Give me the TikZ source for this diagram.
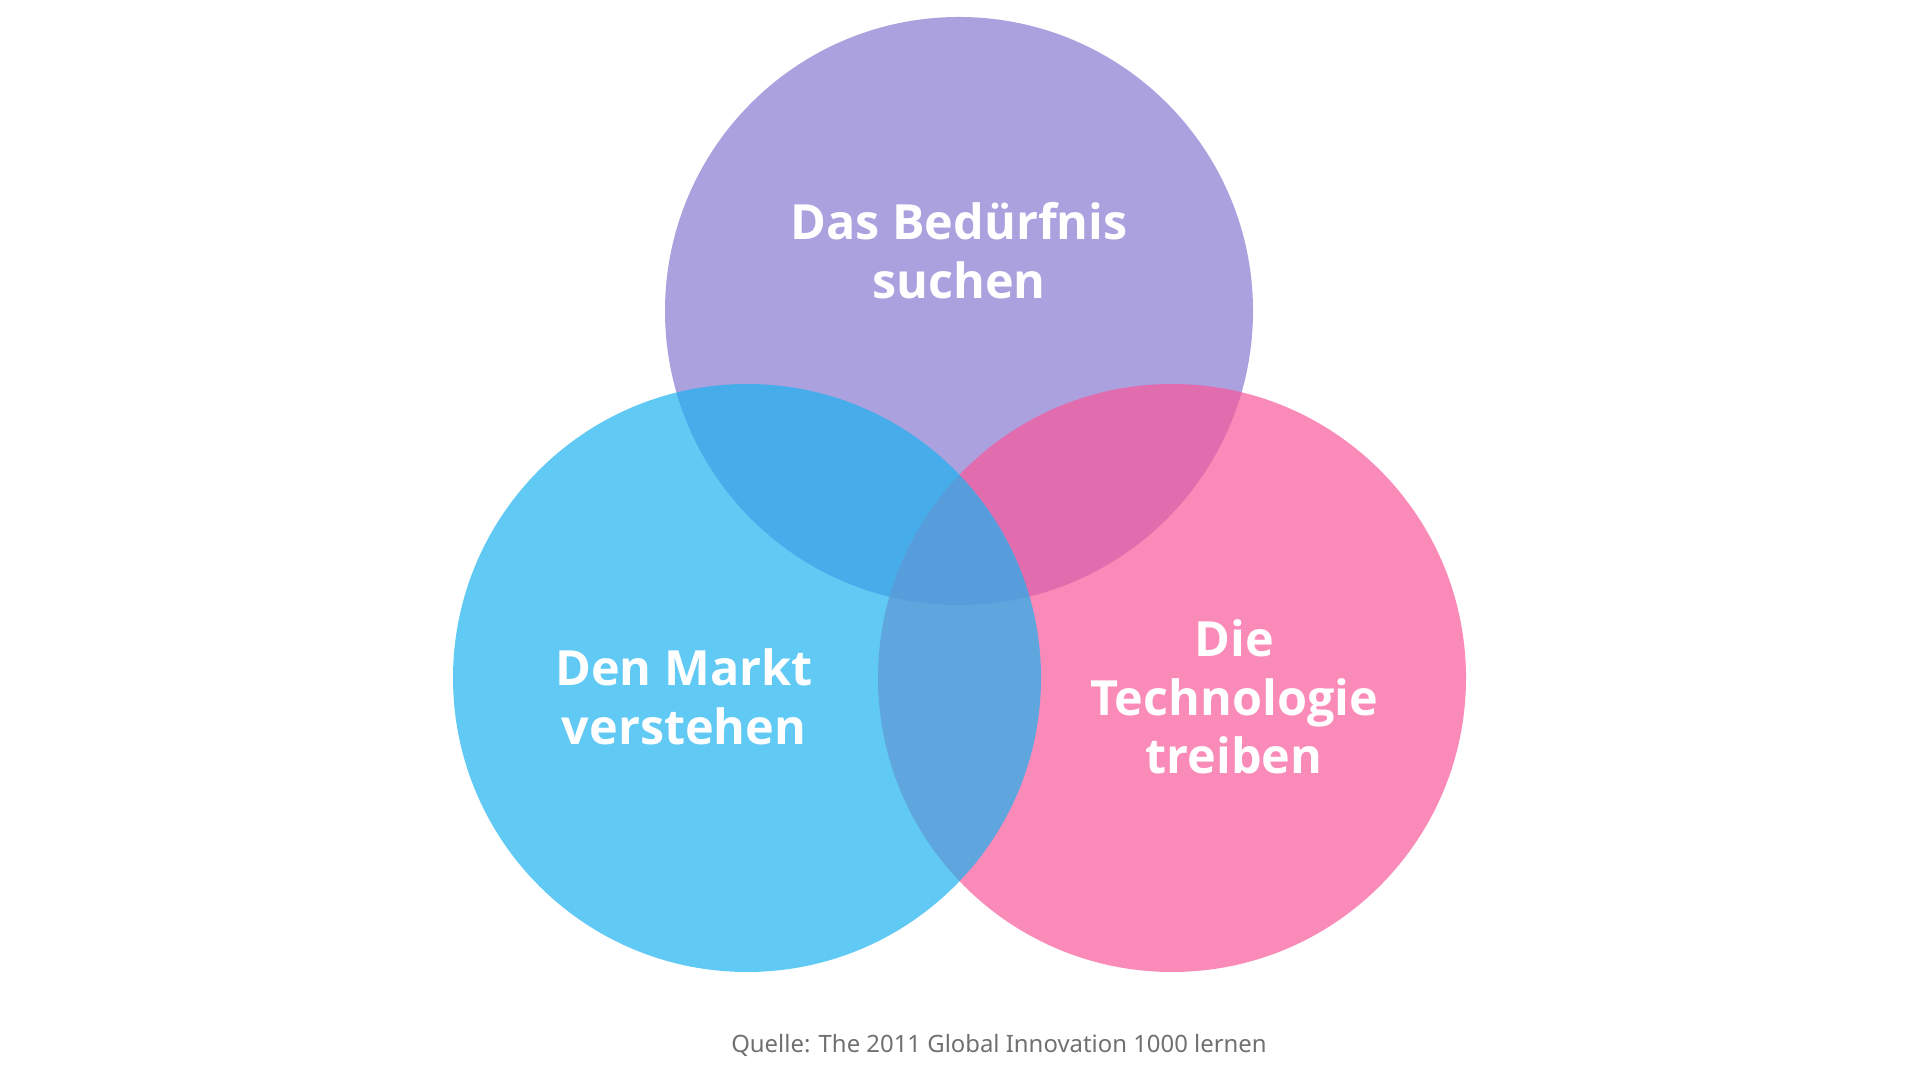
\documentclass[tikz,border=0pt]{standalone}
\usepackage{fontspec}
\setmainfont{Noto Sans}
\newfontfamily\labelfont{Open Sans}
\usepackage{xcolor}
\usepackage{tikz}
\usetikzlibrary{positioning, calc}
\definecolor{vnpurple}{HTML}{8779D1}
\definecolor{vnblue}{HTML}{1DB2EF}
\definecolor{vnpink}{HTML}{F8589A}
\definecolor{vngray}{HTML}{707070}

\begin{document}
\begin{tikzpicture}[
  kreis/.style={
    circle, minimum size=5.88cm, inner sep=0pt,
    fill opacity=0.7, draw=none
  },
  kreistext/.style={
    text=white, align=center,
    font=\labelfont\bfseries\fontsize{13.8}{16.7}\selectfont
  },
  quelle/.style={
    text=vngray, font=\fontsize{6.8}{8}\selectfont
  },
]
\useasboundingbox (0,0) rectangle (19.2,10.8);

% Kreise
\node[kreis, fill=vnpurple] (beduerfnis) at (9.59,7.69) {};
\node[kreis, fill=vnpink] (technik) at (11.72,4.02) {};
\node[kreis, fill=vnblue] (markt) at (7.47,4.02) {};

% Beschriftungen
\node[kreistext] (beduerfnistext) at (9.59,8.29) {Das Bedürfnis\\suchen};
\node[kreistext] (markttext) at (6.84,3.83) {Den Markt\\verstehen};
\node[kreistext] (techniktext) at (12.34,3.83) {Die\\Technologie\\treiben};

% Quelle
\node[quelle] (quelle) at (9.99,0.35) {Quelle: The 2011 Global Innovation 1000 lernen};

\end{tikzpicture}
\end{document}
